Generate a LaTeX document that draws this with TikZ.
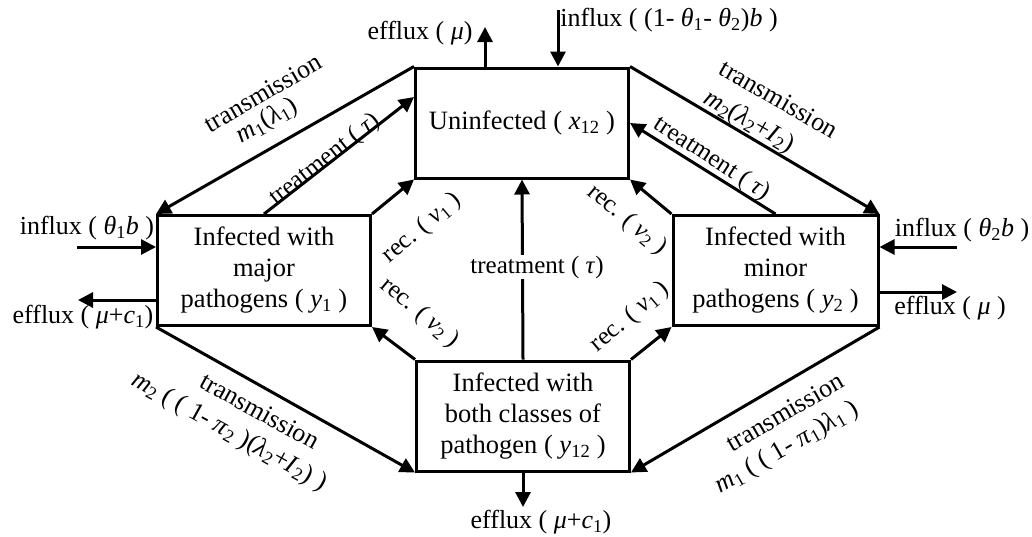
\documentclass[tikz,border=0pt]{standalone}
\usepackage{fontspec}
\setmainfont{Liberation Serif}
\usetikzlibrary{arrows.meta, positioning, calc}

\begin{document}
\begin{tikzpicture}[
    x=1pt, y=-1pt,
    >={Triangle[length=15pt, width=15pt]},
    box/.style={
      draw, line width=3pt, minimum width=213pt, minimum height=110pt,
      inner sep=2pt, align=center, font=\fontsize{26.5}{31}\selectfont
    },
    flow/.style={->, line width=3pt},
    lbl/.style={font=\fontsize{26}{30}\selectfont, inner sep=1pt},
    slim/.style={lbl, font=\fontsize{25}{29}\selectfont}
  ]
  \useasboundingbox (0,0) rectangle (1032,536);

  % Compartiments
  \node[box] (uninf) at (522,123)   {Uninfected ( \textit{x}\textsubscript{12} )};
  \node[box] (maj)   at (264,270.5) {Infected with\\ major\\ pathogens ( \textit{y}\textsubscript{1} )};
  \node[box, minimum width=205pt] (minr) at (775.5,270.5) {Infected with\\ minor\\ pathogens ( \textit{y}\textsubscript{2} )};
  \node[box] (both)  at (523,416)   {Infected with\\ both classes of\\ pathogen ( \textit{y}\textsubscript{12} )};

  % Flux entre compartiments
  \draw[flow] (uninf.north west) -- (maj.north west);
  \draw[flow] (maj.north) -- ([yshift=26pt]uninf.west);
  \draw[flow] (maj.north east) -- (uninf.south west);
  \draw[flow] (both.north west) -- (maj.south east);
  \draw[flow] (both.north) -- (uninf.south);
  \draw[flow] (uninf.north east) -- (minr.north east);
  \draw[flow] (minr.north) -- (uninf.east);
  \draw[flow] (minr.north west) -- (uninf.south east);
  \draw[flow] (both.north east) -- (minr.south west);
  \draw[flow] (maj.south west) -- (both.south west);
  \draw[flow] (minr.south east) -- (both.south east);

  % Entrees et sorties
  \coordinate (outU) at (485,27);
  \coordinate (inU)  at (558,10);
  \coordinate (inM)  at (77,247);
  \coordinate (outM) at (78,300);
  \coordinate (inN)  at (957,247);
  \coordinate (outN) at (957,292);
  \coordinate (outB) at (523,507);
  \draw[flow] (outU |- uninf.north) -- (outU);
  \draw[flow] (inU) -- (inU |- uninf.north);
  \draw[flow] (inM) -- (inM -| maj.west);
  \draw[flow] (outM -| maj.west) -- (outM);
  \draw[flow] (inN) -- (inN -| minr.east);
  \draw[flow] (outN -| minr.east) -- (outN);
  \draw[flow] (both.south) -- (outB);

  % Etiquettes des entrees/sorties
  \node[lbl] (tU) at (420,33)  {efflux ( \textit{μ})};
  \node[lbl] (iU) at (669,20)  {influx ( (1- \textit{θ}\textsubscript{1}- \textit{θ}\textsubscript{2})\textit{b} )};
  \node[lbl] (iM) at (87,228)  {influx ( \textit{θ}\textsubscript{1}\textit{b} )};
  \node[lbl] (oM) at (83,317)  {efflux ( \textit{μ}+\textit{c}\textsubscript{1})};
  \node[lbl] (iN) at (962,230) {influx ( \textit{θ}\textsubscript{2}\textit{b} )};
  \node[lbl] (oN) at (950,308) {efflux ( \textit{μ} )};
  \node[lbl] (oB) at (541,522) {efflux ( \textit{μ}+\textit{c}\textsubscript{1})};

  % Transmission
  \node[lbl, rotate=30]  (t1a) at (263,93)  {transmission};
  \node[lbl, rotate=30]  (t1b) at (267,121) {\textit{m}\textsubscript{1}(\textit{λ}\textsubscript{1})};
  \node[lbl, rotate=-30] (t2a) at (779,99)  {transmission};
  \node[lbl, rotate=-30] (t2b) at (749,122) {\textit{m}\textsubscript{2}(\textit{λ}\textsubscript{2}+\textit{I}\textsubscript{2})};
  \node[lbl, rotate=-29] (t3a) at (260,411) {transmission};
  \node[lbl, rotate=-29] (t3b) at (229,432) {\textit{m}\textsubscript{2} ( ( 1- \textit{π}\textsubscript{2} )(\textit{λ}\textsubscript{2}+\textit{I}\textsubscript{2}) )};
  \node[lbl, rotate=30]  (t4a) at (785,412) {transmission};
  \node[lbl, rotate=30]  (t4b) at (787,448) {\textit{m}\textsubscript{1} ( ( 1- \textit{π}\textsubscript{1})\textit{λ}\textsubscript{1} )};

  % Traitement et guerison
  \node[slim, rotate=38]  (tr1) at (325,160) {treatment (~\textit{τ})};
  \node[slim, rotate=-33] (tr2) at (712,159) {treatment (~\textit{τ})};
  \node[slim, fill=white] (tr0) at (537,267) {treatment (~\textit{τ})};
  \node[slim, rotate=40]  (r1)  at (422,228) {rec. ( \textit{v}\textsubscript{1} )};
  \node[slim, rotate=-40] (r2)  at (627,220) {rec. ( \textit{v}\textsubscript{2} )};
  \node[slim, rotate=-40] (r3)  at (420,313) {rec. ( \textit{v}\textsubscript{2} )};
  \node[slim, rotate=40]  (r4)  at (630,317) {rec. ( \textit{v}\textsubscript{1} )};

\end{tikzpicture}
\end{document}
